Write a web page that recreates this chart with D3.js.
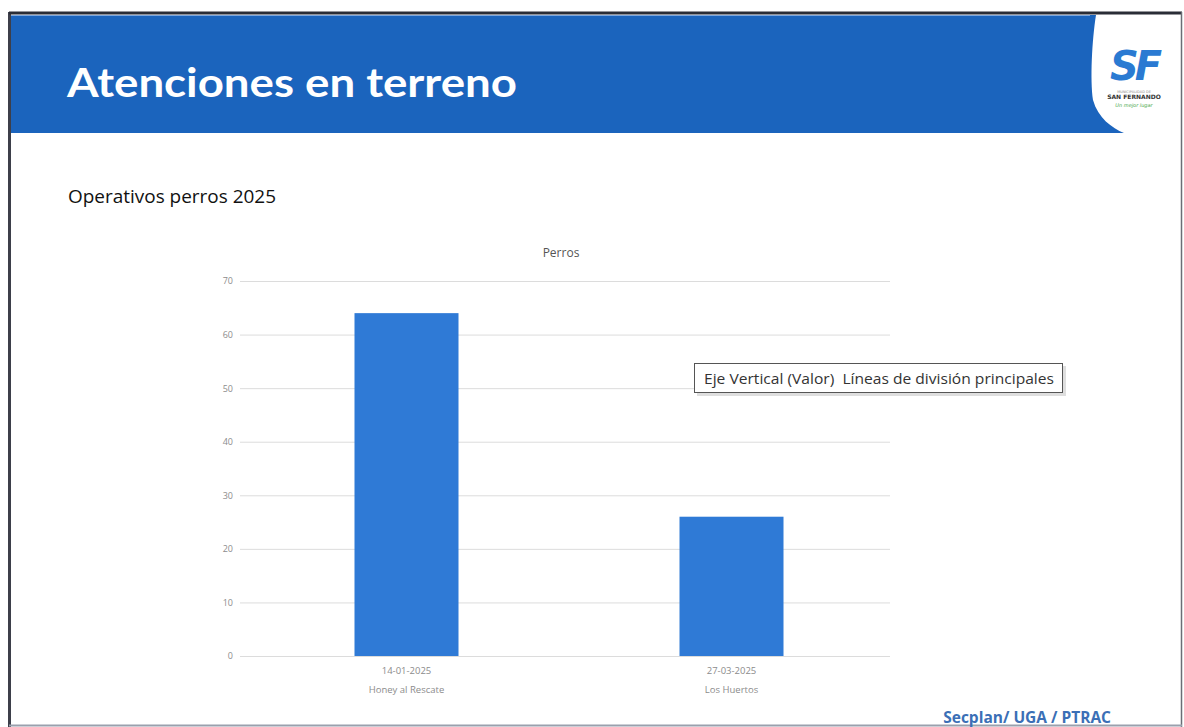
<!DOCTYPE html>
<html><head><meta charset="utf-8">
<script src="https://cdn.jsdelivr.net/npm/d3@7"></script>
<style>
html,body{margin:0;padding:0;background:#fff;}
svg{display:block;}
</style></head>
<body>
<script>
// ---- data ----
const categoryDates = ["14-01-2025", "27-03-2025"];
const categoryNames = ["Honey al Rescate", "Los Huertos"];
const values = [64, 26];
const yTicks = [0, 10, 20, 30, 40, 50, 60, 70];
const chartTitle = "Perros";
const pageTitle = "Atenciones en terreno";
const subTitle = "Operativos perros 2025";
const footer = "Secplan/ UGA / PTRAC";
const tooltipText = "Eje Vertical (Valor)  Líneas de división principales";

const W = 1184, H = 727;
const svg = d3.select("body").append("svg").attr("width", W).attr("height", H);

// page frame
svg.append("rect").attr("x",0).attr("y",0).attr("width",W).attr("height",H).attr("fill","#fff");
svg.append("line").attr("x1",9.5).attr("x2",9.5).attr("y1",12).attr("y2",H).attr("stroke","#3d3f4a").attr("stroke-width",3);
svg.append("line").attr("x1",9).attr("x2",1182).attr("y1",13).attr("y2",13).attr("stroke","#2a2d36").attr("stroke-width",3);
svg.append("line").attr("x1",1181.5).attr("x2",1181.5).attr("y1",12).attr("y2",H).attr("stroke","#6a6d75").attr("stroke-width",1.5);
svg.append("line").attr("x1",9).attr("x2",1182).attr("y1",725.5).attr("y2",725.5).attr("stroke","#9aa0ad").attr("stroke-width",2);

// header band
svg.append("rect").attr("x",11).attr("y",15).attr("width",1080).attr("height",118).attr("fill","#1b64bd");
svg.append("line").attr("x1",11).attr("x2",1091).attr("y1",15.5).attr("y2",15.5).attr("stroke","#7ea8de").attr("stroke-width",1);
svg.append("path")
  .attr("d","M1090,15 L1090,133 L1124,133 C1112,128 1098,118 1093,100 C1090,80 1092,40 1096,15 Z")
  .attr("fill","#1b64bd");

svg.append("text").attr("x",67).attr("y",97).text(pageTitle)
  .attr("fill","#fff").attr("font-family","Lato, 'Open Sans', sans-serif").attr("font-weight","bold")
  .attr("font-size",41).attr("textLength",450).attr("lengthAdjust","spacingAndGlyphs");

// logo
svg.append("text").attr("x",1134).attr("y",80).attr("text-anchor","middle").text("SF")
  .attr("fill","#2a7ad2").attr("font-family","'DejaVu Sans', sans-serif").attr("font-weight","bold")
  .attr("font-style","italic").attr("font-size",40).attr("letter-spacing",-4);
svg.append("text").attr("x",1134).attr("y",93).attr("text-anchor","middle").text("MUNICIPALIDAD DE")
  .attr("fill","#8a8a8a").attr("font-family","'DejaVu Sans', sans-serif").attr("font-size",3.5);
svg.append("text").attr("x",1134).attr("y",99).attr("text-anchor","middle").text("SAN FERNANDO")
  .attr("fill","#333").attr("font-family","'DejaVu Sans', sans-serif").attr("font-weight","bold").attr("font-size",6);
svg.append("text").attr("x",1134).attr("y",107).attr("text-anchor","middle").text("Un mejor lugar")
  .attr("fill","#4aa84a").attr("font-family","'DejaVu Sans', sans-serif").attr("font-style","italic").attr("font-size",5);

// subtitle
svg.append("text").attr("x",68).attr("y",203).text(subTitle)
  .attr("fill","#111").attr("font-family","'Open Sans', Lato, sans-serif").attr("font-size",18)
  .attr("textLength",208).attr("lengthAdjust","spacingAndGlyphs");

// chart
const plot = {left:240, right:890, top:281, bottom:656};
const y = d3.scaleLinear().domain([0,70]).range([plot.bottom, plot.top]);
const x = d3.scaleBand().domain(categoryDates).range([plot.left+4, plot.right+4]).paddingInner(0.68).paddingOuter(0.34);

svg.append("text").attr("x",561).attr("y",257).attr("text-anchor","middle").text(chartTitle)
  .attr("fill","#555").attr("font-family","'Open Sans', sans-serif").attr("font-size",12);

const grid = svg.append("g");
grid.selectAll("line").data(yTicks).join("line")
  .attr("x1",plot.left).attr("x2",plot.right)
  .attr("y1",d=>y(d)+0.5).attr("y2",d=>y(d)+0.5)
  .attr("stroke","#dcdcdc").attr("stroke-width",1);

const yAxis = svg.append("g").attr("transform",`translate(${plot.left},0)`)
  .call(d3.axisLeft(y).tickValues(yTicks).tickSize(0).tickPadding(7));
yAxis.select(".domain").remove();
yAxis.selectAll("text").attr("fill","#8c8c8c").attr("font-family","'Open Sans', sans-serif").attr("font-size",9);

svg.append("g").selectAll("rect").data(values).join("rect")
  .attr("x",(d,i)=>x(categoryDates[i])).attr("width",x.bandwidth())
  .attr("y",d=>y(d)).attr("height",d=>y(0)-y(d))
  .attr("fill","#2f7ad6");

const xAxis = svg.append("g").attr("transform",`translate(0,${plot.bottom})`)
  .call(d3.axisBottom(x).tickSize(0).tickPadding(11));
xAxis.select(".domain").remove();
xAxis.selectAll("text").attr("fill","#8c8c8c").attr("font-family","'Open Sans', sans-serif").attr("font-size",9.5);
svg.append("g").selectAll("text").data(categoryNames).join("text")
  .attr("x",(d,i)=>x(categoryDates[i])+x.bandwidth()/2).attr("y",693)
  .attr("text-anchor","middle").text(d=>d)
  .attr("fill","#8c8c8c").attr("font-family","'Open Sans', sans-serif").attr("font-size",9.5);

// tooltip
const tip = svg.append("g");
tip.append("rect").attr("x",697).attr("y",366).attr("width",369).attr("height",30).attr("fill","#c8c8c8").attr("opacity",0.6);
tip.append("rect").attr("x",694.5).attr("y",363.5).attr("width",368).attr("height",29).attr("fill","#fff").attr("stroke","#555").attr("stroke-width",1);
tip.append("text").attr("x",704).attr("y",384).text(tooltipText)
  .style("white-space","pre")
  .attr("fill","#333").attr("font-family","'Open Sans', sans-serif").attr("font-size",15)
  .attr("textLength",350).attr("lengthAdjust","spacingAndGlyphs");

// footer
svg.append("text").attr("x",1111).attr("y",723).attr("text-anchor","end").text(footer)
  .attr("fill","#3b6fb6").attr("font-family","'Open Sans', sans-serif").attr("font-weight","bold").attr("font-size",15.5);
</script>
</body></html>
